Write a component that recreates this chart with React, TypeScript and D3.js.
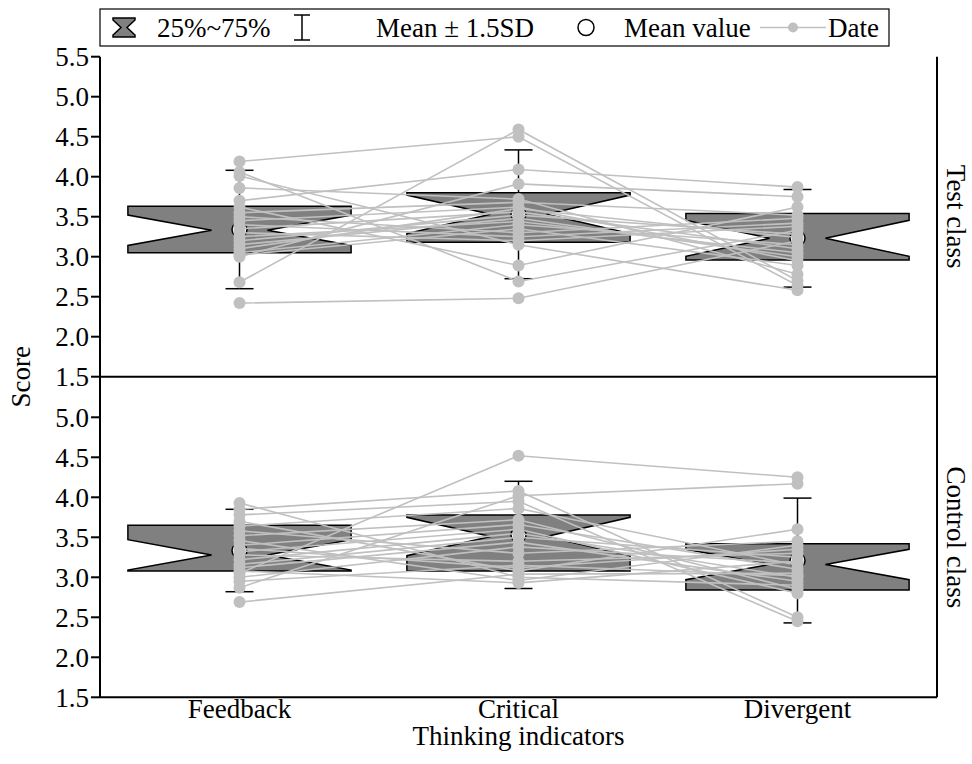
import React from "react";
import * as d3 from "d3";

const categories = ["Feedback", "Critical", "Divergent"];
const panelNames = ["Test class", "Control class"];
const topTicks = [1.5, 2.0, 2.5, 3.0, 3.5, 4.0, 4.5, 5.0, 5.5];
const bottomTicks = [1.5, 2.0, 2.5, 3.0, 3.5, 4.0, 4.5, 5.0];

// Box statistics (Feedback, Critical, Divergent)
const testQ1 = [3.05, 3.18, 2.96];
const testMedian = [3.33, 3.53, 3.23];
const testQ3 = [3.63, 3.8, 3.54];
const testMean = [3.34, 3.53, 3.23];
const testSD15 = [0.74, 0.805, 0.61];
const testNotch = [0.19, 0.24, 0.225];

const controlQ1 = [3.08, 3.08, 2.84];
const controlMedian = [3.28, 3.51, 3.16];
const controlQ3 = [3.65, 3.78, 3.42];
const controlMean = [3.335, 3.53, 3.21];
const controlSD15 = [0.515, 0.67, 0.78];
const controlNotch = [0.19, 0.24, 0.19];

// Individual scores (one entry per student, index-aligned)
const testFeedback = [4.19, 2.68, 2.42, 4.06, 4.01, 3.86, 3.7, 3.0, 3.62, 3.55, 3.5, 3.45, 3.4, 3.35, 3.3, 3.25, 3.2, 3.15, 3.1, 3.05, 3.02];
const testCritical = [4.5, 4.59, 2.48, 2.69, 3.15, 3.72, 4.09, 3.91, 2.89, 3.68, 3.3, 3.62, 3.25, 3.56, 3.2, 3.44, 3.52, 3.48, 3.6, 3.4, 3.35];
const testDivergent = [2.64, 2.7, 3.2, 3.33, 2.58, 2.78, 3.87, 3.75, 3.62, 3.52, 3.48, 2.95, 3.42, 3.1, 3.38, 3.05, 3.28, 3.0, 3.24, 3.15, 2.89];

const controlFeedback = [3.05, 2.87, 3.93, 2.69, 3.85, 3.78, 3.7, 3.64, 3.58, 3.52, 3.46, 3.4, 3.36, 3.32, 3.28, 3.22, 3.16, 3.12, 3.08, 3.0, 2.95];
const controlCritical = [4.52, 4.02, 3.0, 3.04, 4.08, 3.95, 3.08, 3.86, 3.3, 3.72, 2.96, 3.66, 3.12, 3.6, 3.2, 3.55, 3.5, 3.44, 2.93, 3.38, 3.15];
const controlDivergent = [4.25, 4.17, 2.9, 3.05, 2.5, 2.45, 3.6, 3.15, 3.45, 2.85, 3.4, 3.1, 3.35, 2.8, 3.3, 3.0, 3.25, 2.95, 3.2, 3.18, 3.02];

const FONT = "'Liberation Serif', 'Times New Roman', serif";
const BOX_FILL = "#808080";
const GRAY = "#c0c0c0";

type Stats = { q1: number[]; med: number[]; q3: number[]; mean: number[]; sd15: number[]; notch: number[] };

function Panel({ y, stats, series, x }: { y: d3.ScaleLinear<number, number>; stats: Stats; series: number[][]; x: d3.ScaleBand<string> }) {
  const bw = x.bandwidth();
  const half = bw * 0.4;
  const apex = bw * 0.1;
  const cx = (c: string) => (x(c) as number) + bw / 2;
  const line = d3.line<[number, number]>().x((d) => d[0]).y((d) => d[1]);
  const students = series[0].map((_, i) => series.map((s, k) => [cx(categories[k]), y(s[i])] as [number, number]));
  return (
    <g>
      {categories.map((c, k) => {
        const c0 = cx(c);
        const yq3 = y(stats.q3[k]);
        const yq1 = y(stats.q1[k]);
        const ym = y(stats.med[k]);
        const nt = Math.max(yq3, y(stats.med[k] + stats.notch[k]));
        const nb = Math.min(yq1, y(stats.med[k] - stats.notch[k]));
        const pts: [number, number][] = [
          [c0 - half, yq3], [c0 + half, yq3], [c0 + half, nt], [c0 + apex, ym], [c0 + half, nb],
          [c0 + half, yq1], [c0 - half, yq1], [c0 - half, nb], [c0 - apex, ym], [c0 - half, nt],
        ];
        return (
          <polygon key={"b" + c} points={pts.map((p) => p.join(",")).join(" ")} fill={BOX_FILL} stroke="#000" strokeWidth={1.5} strokeLinejoin="miter" />
        );
      })}
      {categories.map((c, k) => {
        const c0 = cx(c);
        const yt = y(stats.mean[k] + stats.sd15[k]);
        const yb = y(stats.mean[k] - stats.sd15[k]);
        return (
          <g key={"w" + c} stroke="#000" strokeWidth={1.5}>
            <line x1={c0} x2={c0} y1={yt} y2={yb} />
            <line x1={c0 - 14} x2={c0 + 14} y1={yt} y2={yt} />
            <line x1={c0 - 14} x2={c0 + 14} y1={yb} y2={yb} />
          </g>
        );
      })}
      {categories.map((c, k) => (
        <circle key={"m" + c} cx={cx(c)} cy={y(stats.mean[k])} r={7.5} fill="#fff" stroke="#000" strokeWidth={1.5} />
      ))}
      {students.map((pts, i) => (
        <path key={"l" + i} d={line(pts) as string} fill="none" stroke={GRAY} strokeWidth={1.6} />
      ))}
      {series.map((s, k) =>
        s.map((v, i) => <circle key={"d" + k + "-" + i} cx={cx(categories[k])} cy={y(v)} r={6} fill={GRAY} />)
      )}
    </g>
  );
}

export default function App() {
  const W = 972;
  const H = 764;
  const left = 100;
  const right = 937;
  const x = d3.scaleBand<string>().domain(categories).range([left, right]).padding(0);
  const yTop = d3.scaleLinear().domain([1.5, 5.5]).range([376.7, 56.7]);
  const yBot = d3.scaleLinear().domain([1.5, 5.5]).range([697.3, 377.3]);

  const testStats: Stats = { q1: testQ1, med: testMedian, q3: testQ3, mean: testMean, sd15: testSD15, notch: testNotch };
  const controlStats: Stats = { q1: controlQ1, med: controlMedian, q3: controlQ3, mean: controlMean, sd15: controlSD15, notch: controlNotch };

  const fs = 27;
  return (
    <div style={{ position: "absolute", left: 0, top: 0 }}>
      <svg width={W} height={H} style={{ display: "block", background: "#fff" }} fontFamily={FONT}>
        <rect width={W} height={H} fill="#fff" />
        <Panel y={yTop} stats={testStats} series={[testFeedback, testCritical, testDivergent]} x={x} />
        <Panel y={yBot} stats={controlStats} series={[controlFeedback, controlCritical, controlDivergent]} x={x} />

        {/* axes and frame */}
        <g stroke="#000" strokeWidth={2} fill="none">
          <line x1={left} x2={left} y1={yTop(5.5)} y2={yBot(1.5)} />
          <line x1={right} x2={right} y1={yTop(5.5)} y2={yBot(1.5)} />
          <line x1={left} x2={right} y1={yTop(1.5)} y2={yTop(1.5)} />
          <line x1={left} x2={right} y1={yBot(1.5)} y2={yBot(1.5)} />
          {topTicks.map((t) => (
            <line key={"tt" + t} x1={left - 9} x2={left} y1={yTop(t)} y2={yTop(t)} />
          ))}
          {bottomTicks.map((t) => (
            <line key={"bt" + t} x1={left - 9} x2={left} y1={yBot(t)} y2={yBot(t)} />
          ))}
        </g>
        <g fontSize={fs} textAnchor="end" fill="#000">
          {topTicks.map((t) => (
            <text key={"tl" + t} x={left - 11} y={yTop(t)} dy="0.35em">{t.toFixed(1)}</text>
          ))}
          {bottomTicks.map((t) => (
            <text key={"bl" + t} x={left - 11} y={yBot(t)} dy="0.35em">{t.toFixed(1)}</text>
          ))}
        </g>
        <g fontSize={fs} textAnchor="middle" fill="#000">
          {categories.map((c) => (
            <text key={"x" + c} x={(x(c) as number) + x.bandwidth() / 2} y={718}>{c}</text>
          ))}
          <text x={(left + right) / 2} y={745}>Thinking indicators</text>
          <text transform={`translate(30,${yTop(1.5)}) rotate(-90)`}>Score</text>
          <text transform={`translate(947,${(yTop(5.5) + yTop(1.5)) / 2}) rotate(90)`}>{panelNames[0]}</text>
          <text transform={`translate(947,${(yBot(5.5) + yBot(1.5)) / 2}) rotate(90)`}>{panelNames[1]}</text>
        </g>

        {/* legend */}
        <g>
          <rect x={100} y={9} width={789} height={37} fill="#fff" stroke="#000" strokeWidth={1.2} />
          <polygon points="113,18 135,18 135,20 127,27.5 135,35 135,37 113,37 113,35 121,27.5 113,20" fill={BOX_FILL} stroke="#000" strokeWidth={1.5} />
          <g stroke="#000" strokeWidth={1.5}>
            <line x1={302} x2={302} y1={15} y2={40} />
            <line x1={294} x2={310} y1={15} y2={15} />
            <line x1={294} x2={310} y1={40} y2={40} />
          </g>
          <circle cx={586} cy={27.5} r={8} fill="#fff" stroke="#000" strokeWidth={1.5} />
          <line x1={760} x2={826} y1={27.5} y2={27.5} stroke={GRAY} strokeWidth={1.5} />
          <circle cx={793} cy={27.5} r={5} fill={GRAY} />
          <g fontSize={fs} fill="#000">
            <text x={157} y={37}>25%~75%</text>
            <text x={376} y={37}>Mean ± 1.5SD</text>
            <text x={624} y={37}>Mean value</text>
            <text x={828} y={37}>Date</text>
          </g>
        </g>
      </svg>
    </div>
  );
}
